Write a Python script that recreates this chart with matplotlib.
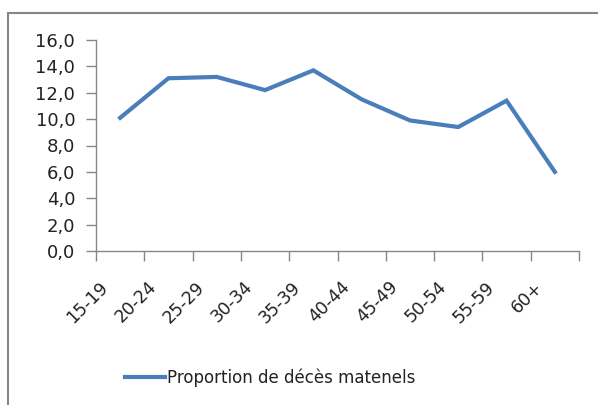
import matplotlib
matplotlib.use("Agg")
import matplotlib.pyplot as plt
import matplotlib.transforms as mtransforms
from matplotlib.patches import Rectangle

# age groups and proportion of maternal deaths
age_groups = ["15-19", "20-24", "25-29", "30-34", "35-39",
              "40-44", "45-49", "50-54", "55-59", "60+"]
proportion = [10.1, 13.1, 13.2, 12.2, 13.7, 11.5, 9.9, 9.4, 11.4, 6.0]
y_ticks = [0, 2, 4, 6, 8, 10, 12, 14, 16]
y_labels = ["0,0", "2,0", "4,0", "6,0", "8,0", "10,0", "12,0", "14,0", "16,0"]

line_color = "#4a7ebb"
axis_color = "#868686"
text_color = "#222222"

fig = plt.figure(figsize=(5.98, 4.05), dpi=100)
ax = fig.add_axes([96 / 598, 1 - 251 / 405, (579 - 96) / 598, (251 - 40) / 405])

xs = list(range(len(age_groups)))
line, = ax.plot(xs, proportion, color=line_color, linewidth=3.0,
                solid_joinstyle="miter", label="Proportion de décès matenels")

ax.set_xlim(-0.5, len(age_groups) - 0.5)
ax.set_ylim(0, 16)
ax.set_yticks(y_ticks)
ax.set_yticklabels(y_labels, fontsize=13, color=text_color)

# ticks at the boundaries between categories, labels at the centres
ax.set_xticks([i - 0.5 for i in range(len(age_groups) + 1)])
ax.set_xticklabels([])
ax.set_xticks(xs, minor=True)
ax.set_xticklabels(age_groups, minor=True, fontsize=12.5, color=text_color,
                   rotation=45, ha="right", va="center", rotation_mode="anchor")
ax.tick_params(axis="x", which="major", length=7, color=axis_color, width=1)
ax.tick_params(axis="x", which="minor", length=0, pad=24)
ax.tick_params(axis="y", length=7, color=axis_color, width=1, pad=8)
shift = mtransforms.ScaledTranslation(-15 / 100, 0, fig.dpi_scale_trans)
for lab in ax.get_xticklabels(minor=True):
    lab.set_transform(lab.get_transform() + shift)

for side in ["top", "right"]:
    ax.spines[side].set_visible(False)
for side in ["left", "bottom"]:
    ax.spines[side].set_color(axis_color)
    ax.spines[side].set_linewidth(1)

# outer chart border (partly cut off in the original)
fig.patches.append(Rectangle((8 / 598, -0.1), 1.2, (405 - 13) / 405 + 0.1,
                             transform=fig.transFigure, fill=False,
                             edgecolor=axis_color, linewidth=1.5))

fig.legend(handles=[line], loc="center", bbox_to_anchor=(270 / 598, 1 - 378 / 405),
           frameon=False, fontsize=12, handlelength=2.4, handletextpad=0.1,
           labelcolor=text_color)

fig.savefig("out.png", dpi=100)
